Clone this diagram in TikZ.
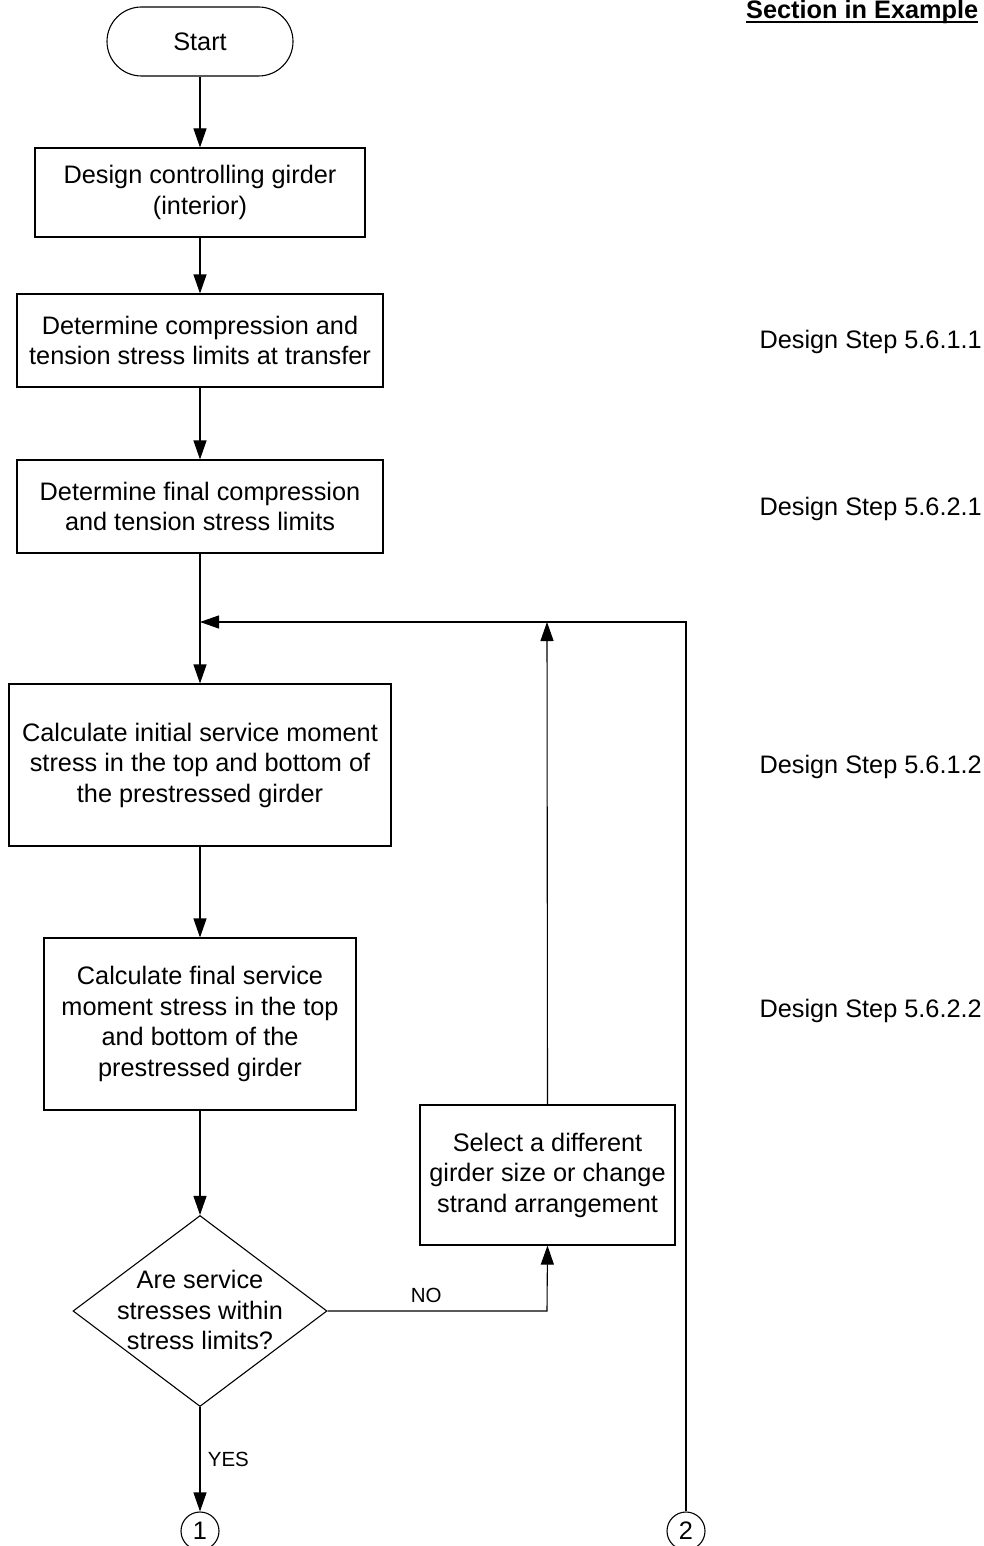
\documentclass[tikz,border=0pt]{standalone}
\usepackage{fontspec}
\setmainfont{Liberation Sans}
\usetikzlibrary{shapes.geometric,arrows.meta}
\begin{document}
\begin{tikzpicture}[x=1pt,y=-1pt,
  every node/.style={font=\fontsize{25.3pt}{30.5pt}\selectfont},
  box/.style={draw,line width=1.1pt,align=center,inner sep=0pt},
  term/.style={draw,line width=1.1pt,rounded corners=34.5pt,minimum width=186pt,minimum height=69pt,inner sep=0pt},
  dec/.style={draw,line width=1.1pt,diamond,minimum width=254pt,minimum height=191pt,inner sep=0pt},
  conn/.style={draw,line width=1.1pt,circle,minimum size=38pt,inner sep=0pt},
  flow/.style={line width=1.1pt,-{Triangle[length=19pt,width=13pt]}},
  side/.style={anchor=base west},
  lbl/.style={font=\fontsize{20.5pt}{24pt}\selectfont}
]
\clip (0,0) rectangle (984,1546);
\fill[white] (0,0) rectangle (984,1546);

% header
\node[anchor=base west,inner sep=0pt,font=\fontsize{25.3pt}{30pt}\selectfont\bfseries] (hdr) at (746,19) {Section in Example};
\draw[line width=1.6pt] ([yshift=-3pt]hdr.base west) -- ([yshift=-3pt]hdr.base east);

% main column
\node[term] (start) at (200,41.5) {Start};
\node[box,minimum width=330pt,minimum height=89pt] (b1) at (200,192.5) {Design controlling girder\\(interior)};
\node[box,minimum width=366pt,minimum height=93pt] (b2) at (200,340.5) {Determine compression and\\tension stress limits at transfer};
\node[box,minimum width=366pt,minimum height=93pt] (b3) at (200,506.5) {Determine final compression\\and tension stress limits};
\node[box,minimum width=382pt,minimum height=162pt] (b4) at (200,765) {Calculate initial service moment\\stress in the top and bottom of\\the prestressed girder};
\node[box,minimum width=312pt,minimum height=172pt] (b5) at (200,1024) {Calculate final service\\moment stress in the top\\and bottom of the\\prestressed girder};
\node[dec] (d) at (200,1311) {};
\node[align=center,inner sep=0pt] (dtxt) at (200,1310) {Are service\\stresses within\\stress limits?};
\node[box,minimum width=255pt,minimum height=140pt] (b6) at (547.5,1175) {Select a different\\girder size or change\\strand arrangement};
\node[conn] (c1) at (200,1531) {1};
\node[conn] (c2) at (686,1531) {2};

% side labels
\node[side] (s1) at (756,348) {Design Step 5.6.1.1};
\node[side] (s2) at (756,515) {Design Step 5.6.2.1};
\node[side] (s3) at (756,773) {Design Step 5.6.1.2};
\node[side] (s4) at (756,1017) {Design Step 5.6.2.2};

% connectors
\draw[flow] (start.south) -- (b1.north);
\draw[flow] (b1.south) -- (b2.north);
\draw[flow] (b2.south) -- (b3.north);
\draw[flow] (b3.south) -- (b4.north);
\draw[flow] (b4.south) -- (b5.north);
\draw[flow] (b5.south) -- (d.north);
\draw[flow] (d.south) -- node[pos=0.5,right=4pt,lbl] {YES} (c1.north);
\coordinate (noc) at (547,1311);
\draw[flow] (d.east) -- node[pos=0.45,above=4pt,lbl] {NO} (noc) -- (b6.south);
\coordinate (loopL) at (200,622);
\coordinate (loopR) at (686,622);
\coordinate (upT) at (547,622);
\draw[flow] (b6.north) -- (upT);
\draw[flow] (c2.north) -- (loopR) -- (loopL);
\end{tikzpicture}
\end{document}
